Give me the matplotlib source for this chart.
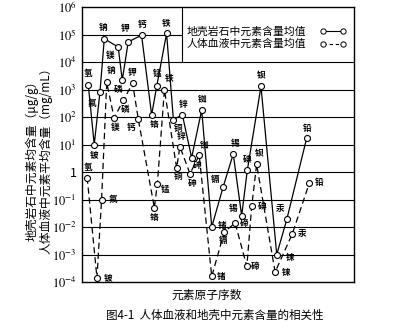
import numpy as np
import matplotlib.pyplot as plt

plt.rcParams['font.family'] = ['Noto Sans CJK SC', 'DejaVu Sans']
plt.rcParams['mathtext.fontset'] = 'stix'

# 地壳岩石中元素含量 (实线)
crust_names = ['氢', '铍', '氟', '钠', '镁', '磷', '钾', '钙', '铬', '锰', '铁', '铜',
               '锌', '砷', '铷', '锗', '镉', '锡', '碲', '碘', '钡', '铼', '汞', '铅']
crust_pos = [2.3, 4.5, 6.6, 8.2, 13.3, 14.8, 17.0, 21.9, 25.6, 27.5, 31.1, 33.6,
             36.9, 40.3, 44.0, 47.7, 51.9, 55.6, 58.7, 60.8, 65.8, 71.6, 75.3, 82.6]
crust_val = [1.5e3, 10, 8e2, 7e4, 3.5e4, 2.2e3, 5.4e4, 9.4e4, 120, 1.35e3, 1.1e5, 80,
             120, 3.3, 180, 0.01, 0.29, 4.5, 0.026, 1.2, 1.3e3, 1e-3, 0.019, 17]

# 人体血液中元素含量 (虚线)
blood_names = crust_names
blood_pos = [1.9, 5.5, 7.2, 9.1, 11.8, 15.2, 18.6, 20.7, 26.6, 27.7, 30.3, 34.8,
             36.0, 39.7, 43.1, 47.7, 52.3, 56.3, 60.6, 62.4, 64.2, 71.0, 77.3, 83.6]
blood_val = [0.63, 1.4e-4, 0.1, 1.8e3, 93, 400, 1.7e3, 83, 0.05, 0.36, 980, 1.4,
             8.3, 0.87, 4.1, 1.6e-4, 6.6e-3, 0.014, 3.7e-4, 0.057, 1.9, 2.3e-4, 5.6e-3, 0.4]

decades = list(range(-4, 7))
tick_labels = ['1' if k == 0 else r'$10^{%d}$' % k for k in decades]

# 标签偏移 (像素)
crust_off = [(0, 11), (0, -10), (-8, -11), (-1, 11), (-8, -8), (-4, -9), (-3, 13), (0, 11),
             (2, -10), (0, 12), (0, 11), (5, -9), (1, 10), (6, -8), (0, 11), (10, 2),
             (-8, 7), (2, 11), (2, -8), (0, 11), (0, 11), (13, -3), (-7, 11), (1, 10)]
blood_off = [(1, 10), (11, 0), (11, 0), (4, 12), (1, -10), (2, -9), (0, 11), (-7, -8),
             (0, -10), (8, -5), (5, 12), (1, -9), (1, 10), (2, -10), (5, 10), (9, 0),
             (-1, -9), (-2, 14), (8, 0), (10, 0), (2, 10), (11, 0), (10, 0), (10, 0)]

fig = plt.figure(figsize=(4.08, 3.28), dpi=100)
ax = fig.add_axes([82 / 408, 1 - 282 / 328, 272 / 408, 275 / 328])
ax.set_yscale('log')
ax.set_xlim(0, 100)
ax.set_ylim(1e-4, 1e6)

mk = dict(marker='o', markersize=4.3, markerfacecolor='white',
          markeredgecolor='black', markeredgewidth=0.8, color='black', lw=0.9)
ax.plot(crust_pos, crust_val, linestyle='-', zorder=3, **mk)
ax.plot(blood_pos, blood_val, linestyle=(0, (5, 3)), zorder=3, **mk)

for names, xs, ys, offs in [(crust_names, crust_pos, crust_val, crust_off),
                            (blood_names, blood_pos, blood_val, blood_off)]:
    for n, x, y, o in zip(names, xs, ys, offs):
        ax.annotate(n, (x, y), xytext=o, textcoords='offset pixels',
                    ha='center', va='center', fontsize=6.2, fontweight='bold', zorder=4)

# 网格线与图例框
box_x = (182 - 82) / 2.72
for k in decades[1:-1]:
    if k == 5:
        ax.plot([0, box_x], [1e5, 1e5], color='black', lw=0.8, zorder=1)
    else:
        ax.axhline(10.0 ** k, color='black', lw=0.8, zorder=1)
ax.plot([box_x, box_x], [1e4, 1e6], color='black', lw=0.8, zorder=1)

ax.text(0.386, 0.912, '地壳岩石中元素含量均值', transform=ax.transAxes,
        fontsize=7.8, ha='left', va='center')
ax.text(0.386, 0.866, '人体血液中元素含量均值', transform=ax.transAxes,
        fontsize=7.8, ha='left', va='center')
leg = dict(marker='o', markersize=3.8, markerfacecolor='white', markeredgecolor='black',
           markeredgewidth=0.7, color='black', lw=0.8, transform=ax.transAxes, clip_on=False)
ax.plot([0.885, 0.958], [0.912, 0.912], linestyle='-', **leg)
ax.plot([0.885, 0.958], [0.866, 0.866], linestyle=(0, (3, 2.5)), **leg)

ax.set_yticks([10.0 ** k for k in decades])
ax.set_yticklabels(tick_labels, fontsize=9)
ax.yaxis.set_minor_locator(plt.NullLocator())
ax.tick_params(axis='y', length=0, pad=4)
ax.set_xticks([])
for s in ax.spines.values():
    s.set_linewidth(1.0)

ax.text(0.46, -0.047, '元素原子序数', transform=ax.transAxes,
        fontsize=8.5, ha='center', va='center')
fig.text(32 / 408, 1 - 158 / 328, '地壳岩石中元素均含量（μg/g）', rotation=90,
         fontsize=8.5, ha='center', va='center')
fig.text(46 / 408, 1 - 158 / 328, '人体血液中元素平均含量（mg/mL）', rotation=90,
         fontsize=8.5, ha='center', va='center')
fig.text(0.527, 1 - 315 / 328, '图4-1  人体血液和地壳中元素含量的相关性',
         fontsize=8.3, ha='center', va='center')

fig.savefig('out.png', dpi=100)
